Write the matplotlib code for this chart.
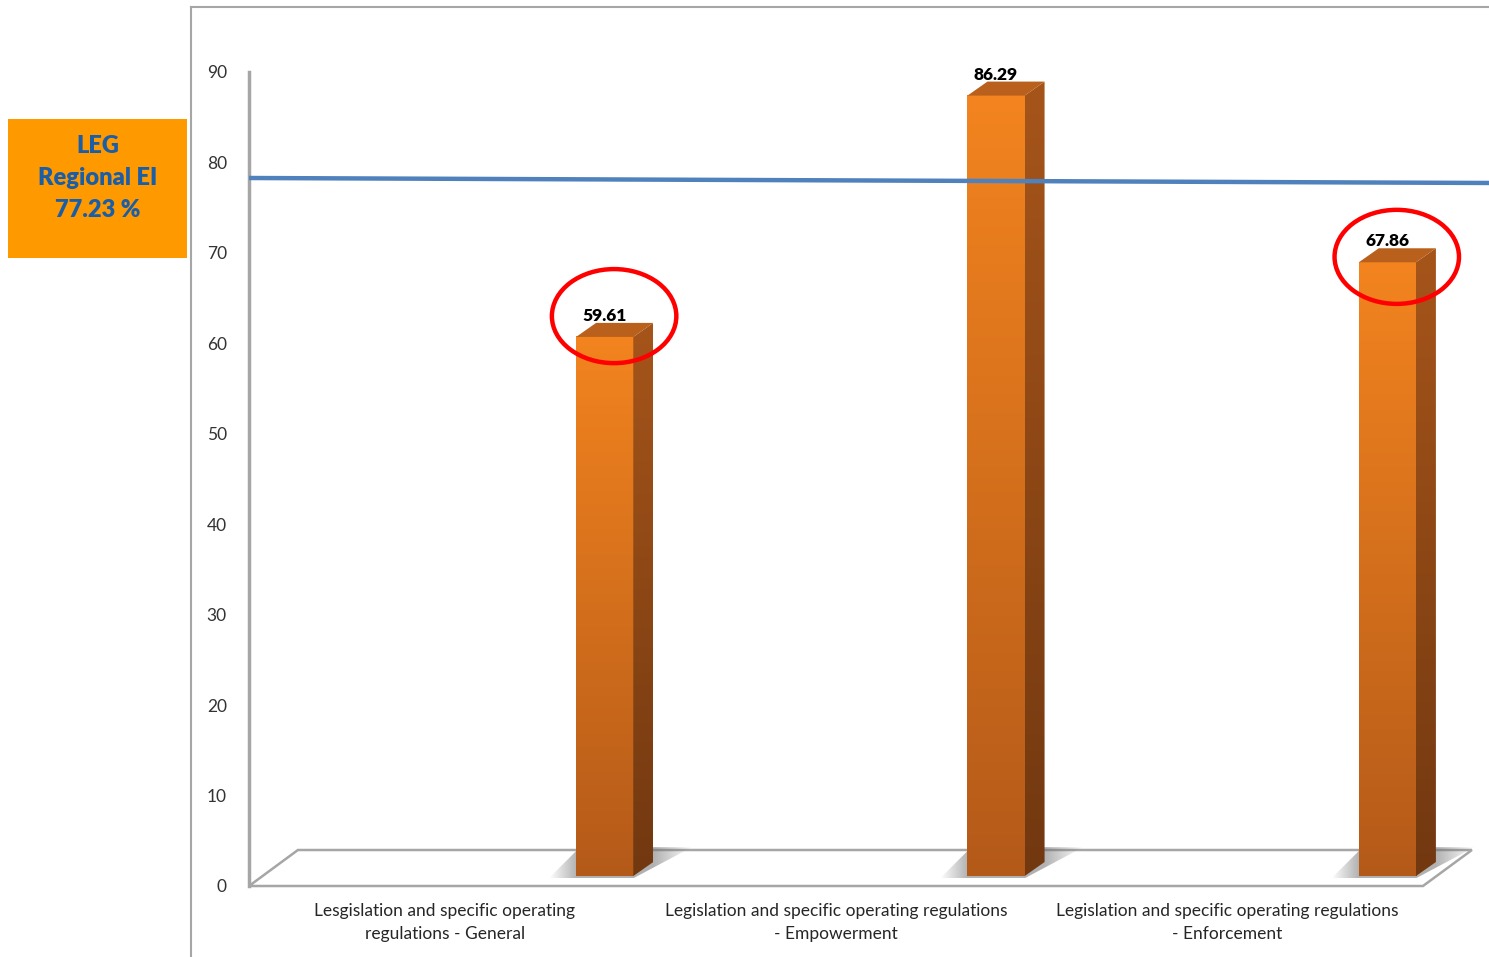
import numpy as np
import matplotlib
matplotlib.use("Agg")
import matplotlib.pyplot as plt
from matplotlib.colors import LinearSegmentedColormap
from matplotlib.patches import Polygon, Ellipse, Rectangle
from matplotlib.lines import Line2D

categories = ["Lesgislation and specific operating\nregulations - General",
              "Legislation and specific operating regulations\n- Empowerment",
              "Legislation and specific operating regulations\n- Enforcement"]
scores = [59.61, 86.29, 67.86]
regional_ei = 77.23
circled = [True, False, True]
yticks = list(range(0, 100, 10))

plt.rcParams['font.family'] = ['Lato', 'DejaVu Sans']

W, H = 1489, 957
fig = plt.figure(figsize=(W / 100, H / 100), dpi=100)


def px(x0, y0, x1, y1):
    # pixel box (top-left origin) -> figure fraction rect
    return [x0 / W, 1 - y1 / H, (x1 - x0) / W, (y1 - y0) / H]


ax = fig.add_axes(px(249, 72, 1489, 886))
xmax = 1240 / 391.33
ax.set_xlim(0, xmax)
ax.set_ylim(0, 90)

# 3d look
floor_dx, floor_dy = 0.125, 3.98
bar_dx, bar_dy = 0.051, 1.55
base = 1.1
bar_off, bar_w = 0.836, 0.146

floor = Polygon([(0, 0), (3, 0), (3 + floor_dx, floor_dy), (floor_dx, floor_dy)],
                closed=True, fc='white', ec='#a6a6a6', lw=1.8, zorder=1, clip_on=False)
ax.add_patch(floor)

front_cmap = LinearSegmentedColormap.from_list('front', ['#b45a19', '#f3841f'])
side_cmap = LinearSegmentedColormap.from_list('side', ['#723810', '#a6551a'])
grad = np.linspace(0, 1, 256)[:, None]

for i, v in enumerate(scores):
    xl = i + bar_off
    xr = xl + bar_w
    top = base + v

    # soft shadow on the floor
    sx0, sx1 = xl - 0.07, xr + 0.15
    xs = np.linspace(sx0, sx1, 200)
    alpha = np.interp(xs, [sx0, xl, xr + bar_dx, sx1], [0.0, 0.55, 0.55, 0.0])
    shade = np.zeros((2, 200, 4))
    shade[..., :3] = 0.45
    shade[..., 3] = alpha
    im = ax.imshow(shade, extent=[sx0, sx1, base - 0.25, base + 3.2], aspect='auto',
                   origin='lower', interpolation='bilinear', zorder=2)
    clip = Polygon([(sx0, base - 0.25), (xr, base - 0.25), (sx1, base + 3.2), (xl + 0.01, base + 3.2)],
                   closed=True, transform=ax.transData)
    im.set_clip_path(clip)

    # front face
    ax.imshow(grad, extent=[xl, xr, base, top], aspect='auto', origin='lower',
              cmap=front_cmap, interpolation='bicubic', zorder=4)
    # side face
    side = Polygon([(xr, base), (xr + bar_dx, base + bar_dy), (xr + bar_dx, top + bar_dy), (xr, top)],
                   closed=True, transform=ax.transData)
    im = ax.imshow(grad, extent=[xr, xr + bar_dx, base, top + bar_dy], aspect='auto',
                   origin='lower', cmap=side_cmap, interpolation='bicubic', zorder=4)
    im.set_clip_path(side)
    # top face
    ax.add_patch(Polygon([(xl, top), (xr, top), (xr + bar_dx, top + bar_dy), (xl + bar_dx, top + bar_dy)],
                         closed=True, fc='#b8601c', ec='none', zorder=5))

    ax.text(xl + bar_w / 2, top + bar_dy + 0.75, f"{v:.2f}", ha='center', va='center',
            fontsize=12.5, fontweight='heavy', color='black', zorder=11)

# hand-drawn highlight rings
ring_lift = [2.3, 0.0, 0.6]
for i, v in enumerate(scores):
    if circled[i]:
        ax.add_patch(Ellipse((i + bar_off + 0.097, base + v + ring_lift[i]), 0.318, 10.4,
                             fill=False, ec='#ff0000', lw=3.2, zorder=12, clip_on=False))

# regional average line
ax.plot([0, xmax], [regional_ei + 1.05, regional_ei + 0.5], color='#4f81bd', lw=3.2,
        zorder=10, clip_on=False, solid_capstyle='butt')

for s in ['top', 'right', 'bottom']:
    ax.spines[s].set_visible(False)
ax.spines['left'].set_color('#a6a6a6')
ax.spines['left'].set_linewidth(2.5)
ax.set_yticks(yticks)
ax.set_yticklabels([str(t) for t in yticks], fontsize=12.5, color='#333333')
ax.tick_params(axis='y', length=0, pad=16)
ax.set_xticks([])
ax.patch.set_visible(False)

for i, cat in enumerate(categories):
    ax.text(i + 0.5, -1.9, cat, ha='center', va='top', fontsize=12.5,
            color='#262626', linespacing=1.5)

# chart frame
fig.add_artist(Line2D([191 / W, 191 / W], [0, 1 - 7 / H], color='#a6a6a6', lw=1.5))
fig.add_artist(Line2D([191 / W, 1], [1 - 7 / H, 1 - 7 / H], color='#a6a6a6', lw=1.5))

# summary box
fig.add_artist(Rectangle((8 / W, 1 - 258 / H), 179 / W, 139 / H, transform=fig.transFigure,
                         fc='#ff9900', ec='none'))
fig.text(97.5 / W, 1 - 178 / H, f"LEG\nRegional EI\n{regional_ei:.2f} %", ha='center', va='center',
         fontsize=17, fontweight='heavy', color='#1a5ea8', linespacing=1.55)

fig.savefig('out.png', dpi=100)
